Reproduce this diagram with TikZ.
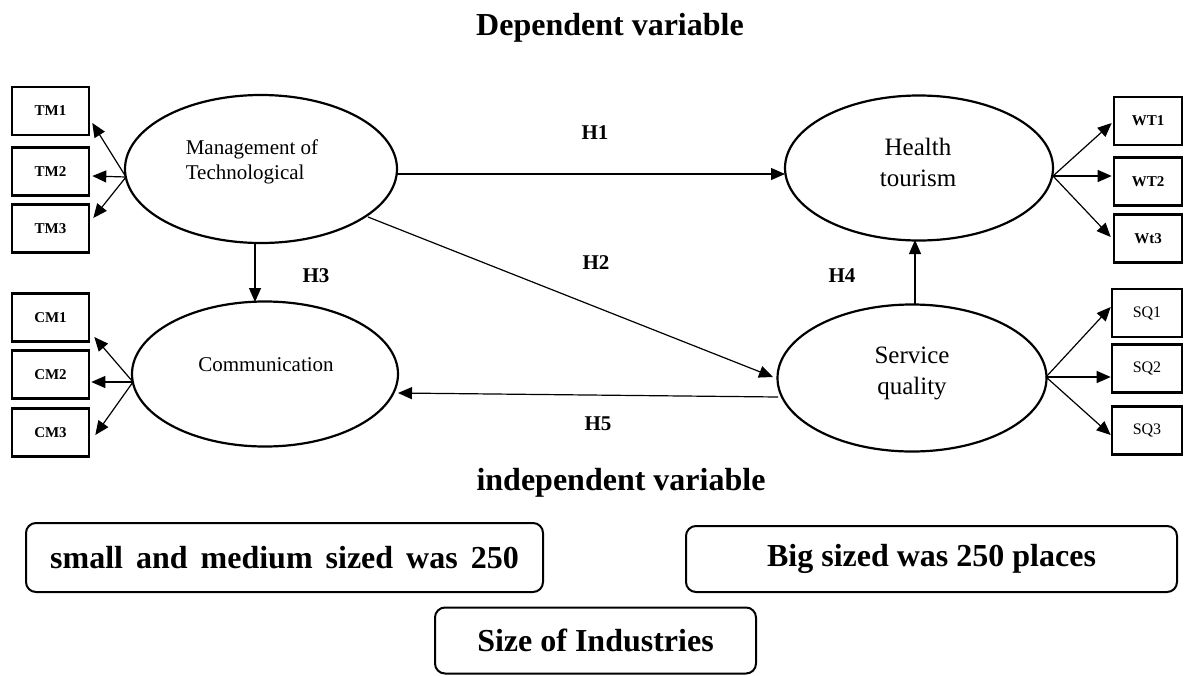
\documentclass[tikz,border=0pt]{standalone}
\usepackage{fontspec}
\setmainfont{Liberation Serif}
\usetikzlibrary{shapes.geometric,arrows.meta}
\begin{document}
\begin{tikzpicture}[x=1pt,y=-1pt,
  ind/.style={draw,line width=2.6pt,minimum width=77pt,minimum height=48pt,inner sep=0pt,font=\fontsize{15}{15}\selectfont\bfseries},
  indr/.style={ind,font=\fontsize{16}{16}\selectfont},
  lat/.style={draw,ellipse,line width=2.2pt,inner sep=0pt},
  conn/.style={line width=1.2pt,-{Triangle[length=14pt,width=12pt]}},
  hlab/.style={font=\fontsize{21}{21}\selectfont\bfseries},
  title/.style={font=\fontsize{32}{32}\selectfont\bfseries},
  rbox/.style={draw,line width=2pt,rounded corners=10pt,inner sep=0pt,font=\fontsize{32}{32}\selectfont\bfseries}
]
\useasboundingbox (0,0) rectangle (1186,675);
% titles
\node[title] (dep) at (610,28) {Dependent variable};
\node[title] (indep) at (621,483) {independent variable};
% latent variables
\node[lat,minimum width=272pt,minimum height=148pt] (mt) at (261,169) {};
\node[align=left,font=\fontsize{21}{25}\selectfont] (mttext) at (252,162) {Management of\\Technological};
\node[lat,minimum width=266pt,minimum height=145pt] (cm) at (265,374) {};
\node[font=\fontsize{21}{21}\selectfont] (cmtext) at (266,365) {Communication};
\node[lat,minimum width=268pt,minimum height=145pt] (ht) at (919,168) {};
\node[align=center,font=\fontsize{25}{31}\selectfont] (httext) at (918,162) {Health\\tourism};
\node[lat,minimum width=269pt,minimum height=147pt] (sq) at (912,378) {};
\node[align=center,font=\fontsize{25}{31}\selectfont] (sqtext) at (912,373) {Service\\quality};
% indicators
\node[ind] (tm1) at (50.5,111) {TM1};
\node[ind] (tm2) at (50.5,171.5) {TM2};
\node[ind] (tm3) at (50.5,228.5) {TM3};
\node[ind] (cm1) at (50.5,317.5) {CM1};
\node[ind] (cm2) at (50.5,374.5) {CM2};
\node[ind] (cm3) at (50.5,432.5) {CM3};
\node[ind,minimum width=68pt] (wt1) at (1148,121) {WT1};
\node[ind,minimum width=68pt] (wt2) at (1148,181.5) {WT2};
\node[ind,minimum width=68pt] (wt3) at (1148,238.5) {Wt3};
\node[indr,minimum width=70pt] (sq1) at (1147,313) {SQ1};
\node[indr,minimum width=70pt] (sq2) at (1147,368.5) {SQ2};
\node[indr,minimum width=70pt] (sq3) at (1147,430.5) {SQ3};
% hub points
\coordinate (mtl) at (126,177);
\coordinate (cml) at (133,382);
\coordinate (htr) at (1053,176);
\coordinate (sqr) at (1046,377);
\coordinate (mtr) at (397,174);
\coordinate (htl) at (785,174);
\coordinate (mtb) at (255,243);
\coordinate (cmt) at (255,302);
\coordinate (sqt) at (915,305);
\coordinate (htb) at (915,240);
\coordinate (mtd) at (368,217);
\coordinate (sqw) at (773,377);
\coordinate (sql) at (778,397);
\coordinate (cmr) at (398,393);
% indicator arrows
\draw[conn] (mtl) -- ([xshift=2pt,yshift=-12pt]tm1.east);
\draw[conn] (mtl) -- ([xshift=2pt,yshift=-4.5pt]tm2.east);
\draw[conn] (mtl) -- ([xshift=3pt,yshift=10.5pt]tm3.east);
\draw[conn] (cml) -- ([xshift=4pt,yshift=-19.5pt]cm1.east);
\draw[conn] (cml) -- ([xshift=1pt,yshift=-7.5pt]cm2.east);
\draw[conn] (cml) -- ([xshift=5pt,yshift=-2.5pt]cm3.east);
\draw[conn] (htr) -- ([xshift=-1pt,yshift=-2pt]wt1.west);
\draw[conn] (htr) -- ([xshift=-1pt,yshift=5.5pt]wt2.west);
\draw[conn] (htr) -- ([xshift=-2pt,yshift=1.5pt]wt3.west);
\draw[conn] (sqr) -- ([xshift=0pt,yshift=6pt]sq1.west);
\draw[conn] (sqr) -- ([xshift=0pt,yshift=-8.5pt]sq2.west);
\draw[conn] (sqr) -- ([xshift=0pt,yshift=-4.5pt]sq3.west);
% structural paths
\draw[conn] (mtr) -- (htl);
\draw[conn] (mtb) -- (cmt);
\draw[conn] (sqt) -- (htb);
\draw[conn] (mtd) -- (sqw);
\draw[conn] (sql) -- (cmr);
\node[hlab] (h1) at (595,133) {H1};
\node[hlab] (h2) at (596,263) {H2};
\node[hlab] (h3) at (316,276) {H3};
\node[hlab] (h4) at (842,276) {H4};
\node[hlab] (h5) at (598,424) {H5};
% bottom boxes
\node[rbox,minimum width=517pt,minimum height=69pt] (small) at (284.5,557.5) {small\hspace{13pt}and\hspace{13pt}medium\hspace{13pt}sized\hspace{13pt}was\hspace{13pt}250};
\node[rbox,minimum width=491pt,minimum height=66pt] (big) at (931.5,559) {\raisebox{-3pt}{Big sized was 250 places}};
\node[rbox,minimum width=321pt,minimum height=66pt] (size) at (595.5,640.5) {Size of Industries};
\end{tikzpicture}
\end{document}
